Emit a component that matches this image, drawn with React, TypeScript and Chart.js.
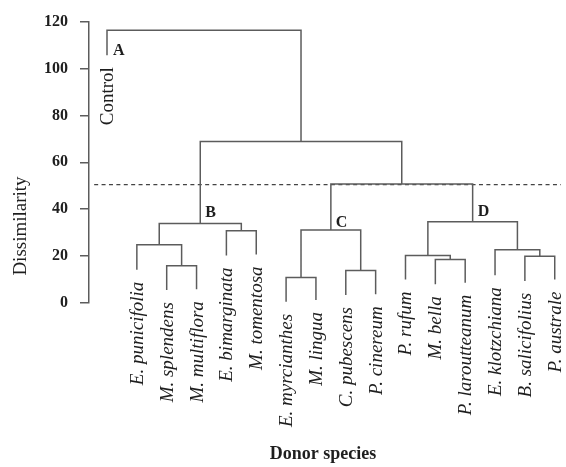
import { useEffect, useRef } from 'react';
import { Chart, registerables } from 'chart.js';

Chart.register(...registerables);

// Leaves (left to right) and the height where each leaf's line ends
const leafNames = [
  'Control', 'E. punicifolia', 'M. splendens', 'M. multiflora', 'E. bimarginata', 'M. tomentosa',
  'E. myrcianthes', 'M. lingua', 'C. pubescens', 'P. cinereum', 'P. rufum', 'M. bella',
  'P. laroutteanum', 'E. klotzchiana', 'B. salicifolius', 'P. australe',
];
const leafBottoms = [105.7, 14.2, 5.5, 5.9, 20.3, 20.7, 0.5, 1.3, 3.4, 3.7, 10.0, 8.0, 8.6, 11.8, 9.4, 10.0];

// Merges (node ids: leaves 0..15, merges 16..)
const mergeLeft = [2, 1, 4, 17, 6, 8, 20, 11, 10, 14, 13, 24, 22, 19, 0];
const mergeRight = [3, 16, 5, 18, 7, 9, 21, 12, 23, 15, 25, 26, 27, 28, 29];
const mergeHeights = [15.9, 24.8, 30.8, 33.9, 10.9, 13.9, 31.1, 18.6, 20.3, 19.9, 22.7, 34.6, 50.7, 68.9, 116.3];

const cutHeight = 50.5;
const yTicks = [0, 20, 40, 60, 80, 100, 120];

const clusterLetters = ['A', 'B', 'C', 'D'];
const clusterNodes = [0, 19, 22, 27];
const clusterLetterHeights = [105.6, 36.8, 32.5, 37.2];

const yTitle = 'Dissimilarity';
const xTitle = 'Donor species';

const LINE = '#5c5c5c';
const TEXT = '#1e1e1e';
const SERIF = '"Liberation Serif", "Times New Roman", serif';

export default function App() {
  const ref = useRef<HTMLCanvasElement | null>(null);

  useEffect(() => {
    document.body.style.margin = '0';
    const n = leafNames.length;
    const nodeX: number[] = [];
    const nodeY: number[] = [];
    for (let i = 0; i < n; i++) {
      nodeX.push(i);
      nodeY.push(leafBottoms[i]);
    }
    for (let k = 0; k < mergeHeights.length; k++) {
      nodeX.push((nodeX[mergeLeft[k]] + nodeX[mergeRight[k]]) / 2);
      nodeY.push(mergeHeights[k]);
    }
    const segs: { x: number; y: number | null }[] = [];
    for (let k = 0; k < mergeHeights.length; k++) {
      const l = mergeLeft[k];
      const r = mergeRight[k];
      const h = mergeHeights[k];
      segs.push({ x: nodeX[l], y: nodeY[l] });
      segs.push({ x: nodeX[l], y: h });
      segs.push({ x: nodeX[r], y: h });
      segs.push({ x: nodeX[r], y: nodeY[r] });
      segs.push({ x: nodeX[r], y: null });
    }

    const labelPlugin = {
      id: 'dendroLabels',
      afterDraw(chart: any) {
        const ctx = chart.ctx as CanvasRenderingContext2D;
        const xs = chart.scales.x;
        const ys = chart.scales.y;
        ctx.save();
        ctx.fillStyle = TEXT;
        // leaf labels
        for (let i = 0; i < n; i++) {
          const px = xs.getPixelForValue(i);
          const py = ys.getPixelForValue(leafBottoms[i]);
          ctx.save();
          ctx.translate(px + 1, py + 12);
          ctx.rotate(-Math.PI / 2);
          ctx.textAlign = 'right';
          ctx.textBaseline = 'middle';
          ctx.font = (i === 0 ? '' : 'italic ') + '19px ' + SERIF;
          ctx.fillText(leafNames[i], 0, 0);
          ctx.restore();
        }
        // cluster letters
        ctx.font = 'bold 16px ' + SERIF;
        ctx.textAlign = 'left';
        ctx.textBaseline = 'alphabetic';
        for (let j = 0; j < clusterLetters.length; j++) {
          const px = xs.getPixelForValue(nodeX[clusterNodes[j]]);
          const py = ys.getPixelForValue(clusterLetterHeights[j]);
          ctx.fillText(clusterLetters[j], px + (j === 0 ? 6 : 5), py);
        }
        // y title
        ctx.save();
        ctx.translate(21, 226);
        ctx.rotate(-Math.PI / 2);
        ctx.textAlign = 'center';
        ctx.textBaseline = 'middle';
        ctx.font = '19px ' + SERIF;
        ctx.fillText(yTitle, 0, 0);
        ctx.restore();
        // x title
        ctx.font = 'bold 18px ' + SERIF;
        ctx.textAlign = 'center';
        ctx.textBaseline = 'alphabetic';
        ctx.fillText(xTitle, 323, 459);
        ctx.restore();
      },
    };

    const chart = new Chart(ref.current as HTMLCanvasElement, {
      type: 'line',
      data: {
        datasets: [
          {
            data: segs as any,
            borderColor: LINE,
            borderWidth: 1.5,
            pointRadius: 0,
            tension: 0,
            spanGaps: false,
            borderJoinStyle: 'miter',
            borderCapStyle: 'butt',
            fill: false,
          },
          {
            data: [
              { x: -0.43, y: cutHeight },
              { x: 15.21, y: cutHeight },
            ],
            borderColor: '#444',
            borderWidth: 1.3,
            borderDash: [4, 3.4],
            pointRadius: 0,
            fill: false,
          },
        ],
      },
      options: {
        responsive: false,
        animation: false,
        layout: { padding: { left: 0, right: 5, top: 19, bottom: 164 } },
        plugins: { legend: { display: false }, tooltip: { enabled: false } },
        scales: {
          x: { type: 'linear', min: -0.603, max: 15.21, display: false },
          y: {
            type: 'linear',
            min: 0,
            max: 120,
            afterFit(scale: any) {
              scale.width = 89;
            },
            afterBuildTicks(scale: any) {
              scale.ticks = yTicks.map((v) => ({ value: v }));
            },
            ticks: {
              color: TEXT,
              padding: 12,
              font: { family: SERIF, size: 16, weight: 'bold' },
            },
            grid: {
              drawOnChartArea: false,
              drawTicks: true,
              tickLength: 9,
              color: LINE,
              lineWidth: 1.5,
            },
            border: { display: true, color: LINE, width: 1.5 },
          },
        },
      },
      plugins: [labelPlugin],
    } as any);

    return () => chart.destroy();
  }, []);

  return (
    <div style={{ width: 566, height: 467 }}>
      <canvas ref={ref} width={566} height={467} style={{ width: 566, height: 467, display: 'block' }} />
    </div>
  );
}
